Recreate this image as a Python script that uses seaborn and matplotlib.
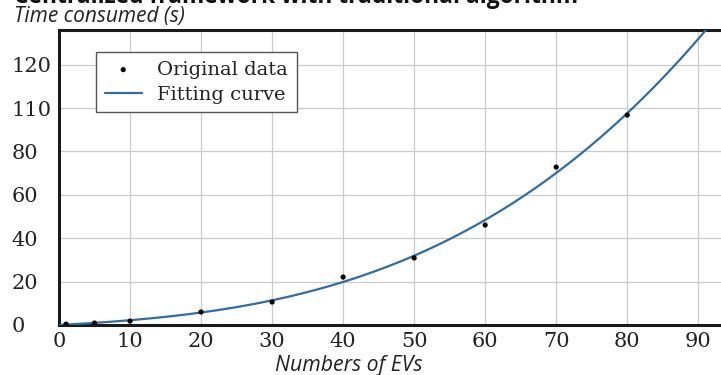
import numpy as np
import pandas as pd
import matplotlib
matplotlib.use("Agg")
import matplotlib.pyplot as plt
import seaborn as sns

# values
num_evs = [1, 5, 10, 20, 30, 40, 50, 60, 70, 80]
time_s = [0.4, 0.9, 1.8, 6.0, 10.6, 22.1, 30.9, 46.1, 72.8, 96.8]
y_ticks = [0, 20, 40, 60, 80, 100, 120]
y_tick_labels = ["0", "20", "40", "60", "80", "110", "120"]
x_ticks = [0, 10, 20, 30, 40, 50, 60, 70, 80, 90]

sns.set_theme(style="whitegrid")
plt.rcParams["font.family"] = ["DejaVu Serif"]

df = pd.DataFrame({"n": num_evs, "t": time_s})

# cubic fit of the data -> "Fitting curve"
coef = np.polyfit(df["n"], df["t"], 3)
xs = np.linspace(0, 95, 300)
fit = pd.DataFrame({"n": xs, "t": np.polyval(coef, xs)})

fig = plt.figure(figsize=(7.21, 3.75), dpi=100)
ax = fig.add_axes([59 / 721, 1 - 325 / 375, 1 - 59 / 721, 295 / 375])

line_col = "#2f6ea3"
sns.lineplot(data=fit, x="n", y="t", ax=ax, color=line_col, linewidth=1.6,
             label="Fitting curve", zorder=3)
sns.scatterplot(data=df, x="n", y="t", ax=ax, color="black", s=14,
                edgecolor="none", label="Original data", zorder=4)

ax.set_xlim(0, 93.2)
ax.set_ylim(0, 136)
ax.set_xticks(x_ticks)
ax.set_yticks(y_ticks)
ax.set_yticklabels(y_tick_labels)
ax.set_xlabel("")
ax.set_ylabel("")

ax.grid(True, color="#cbcbcb", linewidth=0.9)
for side in ["left", "bottom", "top"]:
    ax.spines[side].set_visible(True)
    ax.spines[side].set_color("#1a1a1a")
    ax.spines[side].set_linewidth(2.2)
ax.spines["right"].set_visible(False)

ax.tick_params(axis="both", direction="in", length=5, width=2, color="#1a1a1a",
               labelsize=15, labelcolor="#222222")
ax.tick_params(axis="x", pad=5)
ax.tick_params(axis="y", pad=34)
for lab in ax.get_yticklabels():
    lab.set_horizontalalignment("left")

# legend order: data first, then curve
handles, labels = ax.get_legend_handles_labels()
order = [labels.index("Original data"), labels.index("Fitting curve")]
leg = ax.legend([handles[i] for i in order], [labels[i] for i in order],
                loc="upper left", bbox_to_anchor=((96 - 59) / 662, (325 - 52) / 295),
                borderaxespad=0, fontsize=14, frameon=True, fancybox=False,
                edgecolor="#555555", framealpha=1, handlelength=1.9,
                handletextpad=0.8, borderpad=0.45, labelspacing=0.35)
leg.get_frame().set_linewidth(1.0)
for t in leg.get_texts():
    t.set_color("#222222")

# title is partly cut off at the top edge, as in the source image
fig.text(14 / 721, 1 - 3 / 375, "Centralized framework with traditional algorithm",
         fontsize=16.4, fontweight="bold", family="Open Sans", va="baseline",
         ha="left", color="#111111")
fig.text(14 / 721, 1 - 22 / 375, "Time consumed (s)", fontsize=15,
         style="italic", family="Open Sans", va="baseline", ha="left",
         color="#222222")
fig.text(349 / 721, 1 - 371 / 375, "Numbers of EVs", fontsize=15.3,
         style="italic", family="Open Sans", va="baseline", ha="center",
         color="#222222")

fig.savefig("out.png", dpi=100)
